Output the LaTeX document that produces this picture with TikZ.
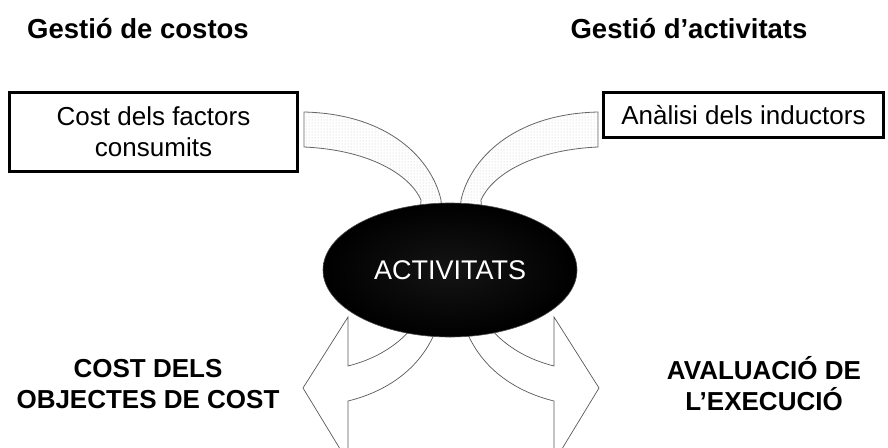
\documentclass[tikz,border=0pt]{standalone}
\usepackage{fontspec}
\setmainfont{Liberation Sans}
\usetikzlibrary{patterns,shapes.geometric}
\newcommand\BigText{\fontsize{26}{31}\selectfont}
\tikzset{
  head/.style={font=\fontsize{27.5}{32}\selectfont\bfseries,anchor=base},
  factorbox/.style={draw,line width=2.6pt,align=center,inner sep=0pt,font=\BigText},
  band/.style={draw=black!60,line width=0.8pt,preaction={fill=white},pattern=dots,pattern color=black!22},
  outarrow/.style={draw=black!65,line width=0.7pt,fill=white},
  goal/.style={font=\BigText\bfseries,align=center},
}

\begin{document}
\begin{tikzpicture}[x=1pt,y=-1pt]
\useasboundingbox (0,0) rectangle (888,447);
\clip (0,0) rectangle (888,447);
% titles
\node[head] (costHead) at (138,38) {Gestió de costos};
\node[head] (activHead) at (689,38) {Gestió d’activitats};
% input boxes
\node[factorbox,minimum width=288pt,minimum height=79pt] (factors) at (153.5,132) {Cost dels factors\\consumits};
\node[factorbox,minimum width=280pt,minimum height=45pt] (drivers) at (743.5,115) {Anàlisi dels inductors};
% bands in, arrows out (left side, then mirrored)
\foreach \side in {1,-1}{
  \begin{scope}[shift={(451,0)},xscale=\side]
    \draw[band] (-147,112) .. controls (-61,114) and (-19,160) .. (-10,200) -- (-9,215) -- (-31,215) -- (-30,200)
      .. controls (-41,175) and (-81,150) .. (-147,147) -- cycle;
    \draw[outarrow] (-39,328) .. controls (-56,348) and (-79,360) .. (-103,366) -- (-103,317) -- (-148,388)
      -- (-103,462) -- (-103,401) .. controls (-66,392) and (-31,370) .. (-15,330) -- cycle;
  \end{scope}
}
% centre
\node[ellipse,draw=black!70,line width=0.6pt,inner color=black!92,outer color=black,
  minimum width=254pt,minimum height=134pt,inner sep=0pt,text=white,font=\fontsize{27}{32}\selectfont]
  (activities) at (450,270) {ACTIVITATS};
% results
\node[goal] (costObjects) at (148,384) {COST DELS\\OBJECTES DE COST};
\node[goal] (performance) at (764,384) {AVALUACIÓ DE\\L’EXECUCIÓ};
\end{tikzpicture}
\end{document}
